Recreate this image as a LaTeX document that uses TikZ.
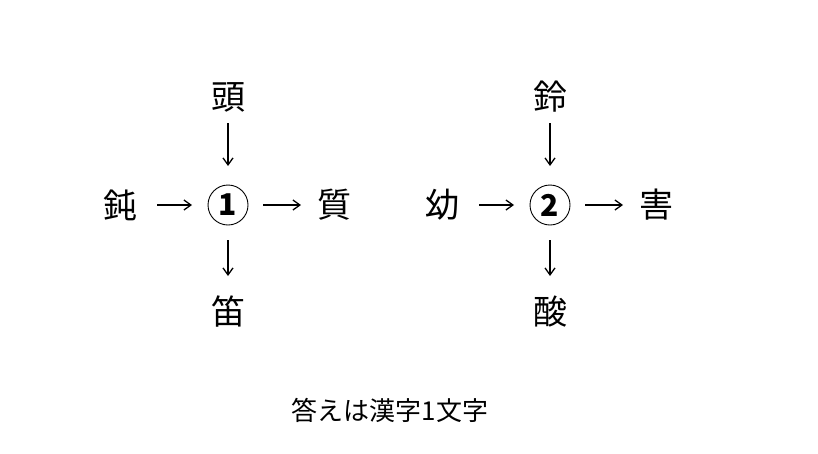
\documentclass[tikz,border=0pt]{standalone}
\usepackage{fontspec}
\usetikzlibrary{arrows.meta}
\setmainfont{Noto Sans CJK JP}
\begin{document}
\begin{tikzpicture}[x=1pt,y=-1pt,
  k/.style={font=\fontsize{34}{36}\selectfont,inner sep=0pt},
  c/.style={circle,draw,line width=0.9pt,minimum size=40pt,inner sep=0pt,font=\fontsize{30}{30}\selectfont\bfseries},
  ar/.style={-{Straight Barb[length=7pt,width=10pt]},line width=1.3pt}]
\useasboundingbox (0,0) rectangle (818,453);
\foreach \n/\x/\a/\b/\c/\d/\e in {1/228/頭/鈍/質/笛/A, 2/550/鈴/幼/害/酸/B}{
  \node[k] (t\e) at (\x,97) {\a};
  \node[c] (c\e) at (\x,205) {\n};
  \node[k] (l\e) at (\x-108,205) {\b};
  \node[k] (r\e) at (\x+106,205) {\c};
  \node[k] (d\e) at (\x,312) {\d};
  \coordinate (tt\e) at (\x,123); \coordinate (tb\e) at (\x,166);
  \coordinate (bt\e) at (\x,240); \coordinate (bb\e) at (\x,276);
  \coordinate (ll\e) at (\x-71,205); \coordinate (lr\e) at (\x-36,205);
  \coordinate (rl\e) at (\x+35,205); \coordinate (rr\e) at (\x+73,205);
  \draw[ar] (tt\e) -- (tb\e);
  \draw[ar] (bt\e) -- (bb\e);
  \draw[ar] (ll\e) -- (lr\e);
  \draw[ar] (rl\e) -- (rr\e);
}
\node[font=\fontsize{26}{28}\selectfont,inner sep=0pt] (cap) at (390,410) {答えは漢字1文字};
\end{tikzpicture}
\end{document}
